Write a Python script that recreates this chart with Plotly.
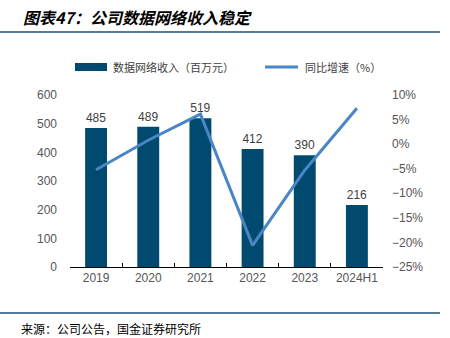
import plotly.graph_objects as go

categories = ["2019", "2020", "2021", "2022", "2023", "2024H1"]
revenue = [485, 489, 519, 412, 390, 216]
growth = [-5.2, 0.8, 6.1, -20.6, -5.3, 7.3]
bar_name = "数据网络收入（百万元）"
line_name = "同比增速（%）"

bar_color = "#004A70"
line_color = "#4A86C5"
font_cn = "Noto Sans CJK SC"

# plot area geometry in pixels (for paper-coordinate helpers)
L, T, W, H = 70, 95, 313, 172
def px(x):
    return (x - L) / W
def py(y):
    return 1 - (y - T) / H

fig = go.Figure()
fig.add_trace(go.Bar(
    x=categories, y=revenue, name=bar_name,
    marker=dict(color=bar_color, line=dict(width=0)),
    text=[str(v) for v in revenue], textposition="outside",
    textfont=dict(size=12, color="#404040", family="Liberation Sans"),
    cliponaxis=False, yaxis="y", showlegend=False,
))
fig.add_trace(go.Scatter(
    x=categories, y=growth, name=line_name, mode="lines",
    line=dict(color=line_color, width=3), yaxis="y2", showlegend=False,
))

tickfont = dict(size=12, color="#555555", family="Liberation Sans")

fig.update_layout(
    width=450, height=338,
    margin=dict(l=70, r=67, t=95, b=71),
    paper_bgcolor="white", plot_bgcolor="white",
    bargap=0.58,
    xaxis=dict(
        showline=True, linecolor="black", linewidth=1,
        ticks="inside", ticklen=4, tickcolor="black", tickson="boundaries",
        tickfont=tickfont, showgrid=False,
    ),
    yaxis=dict(
        range=[0, 600], dtick=100, showgrid=False, showline=False, zeroline=False,
        tickfont=tickfont, ticklabelstandoff=12,
    ),
    yaxis2=dict(
        range=[-25, 10], dtick=5, overlaying="y", side="right",
        showgrid=False, showline=False, zeroline=False, ticksuffix="%",
        tickfont=tickfont, ticklabelstandoff=8,
    ),
    font=dict(family=font_cn),
)

def label(text, x, y, size, color, bold_italic=False):
    if bold_italic:
        text = "<b><i>" + text + "</i></b>"
    fig.add_annotation(text=text, xref="paper", yref="paper",
                       x=px(x), y=py(y), xanchor="left", yanchor="middle",
                       align="left", showarrow=False,
                       font=dict(size=size, color=color, family=font_cn))

# manual legend
fig.add_shape(type="rect", xref="paper", yref="paper",
              x0=px(75), x1=px(107), y0=py(71), y1=py(63),
              fillcolor=bar_color, line=dict(width=0))
label(bar_name, 111, 67, 11, "#404040")
fig.add_shape(type="line", xref="paper", yref="paper",
              x0=px(265), x1=px(298), y0=py(67), y1=py(67),
              line=dict(color=line_color, width=3))
label(line_name, 303, 67, 11, "#404040")

label("图表47：公司数据网络收入稳定", 21, 17, 16, "black", bold_italic=True)
label("来源：公司公告，国金证券研究所", 19, 328, 12, "black")

fig.add_shape(type="line", xref="paper", yref="paper",
              x0=px(0), x1=px(440), y0=py(32), y1=py(32),
              line=dict(color="#1F4E79", width=1.5))
fig.add_shape(type="line", xref="paper", yref="paper",
              x0=px(0), x1=px(440), y0=py(313), y1=py(313),
              line=dict(color="#1F4E79", width=1.5))

fig.write_html("out.html")
